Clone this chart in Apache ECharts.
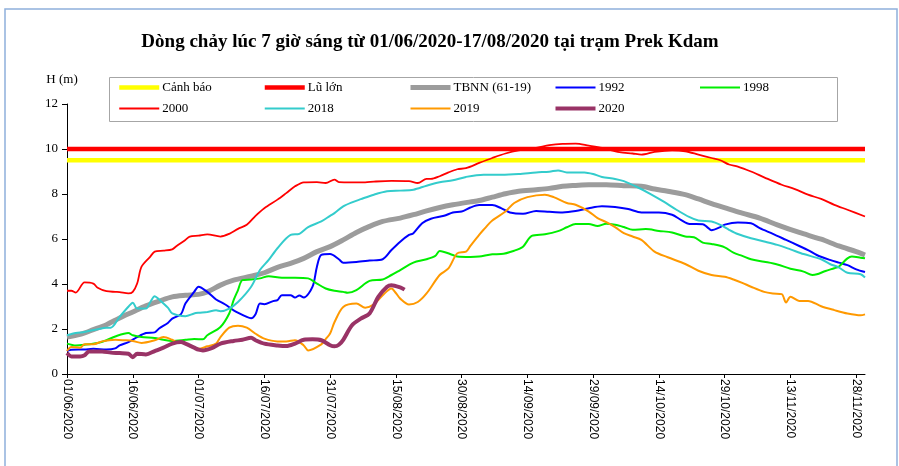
<!DOCTYPE html>
<html>
<head>
<meta charset="utf-8">
<title>Prek Kdam</title>
<script src="https://cdn.jsdelivr.net/npm/echarts@6/dist/echarts.min.js"></script>
<style>
  html, body { margin: 0; padding: 0; background: #fff; }
  #chart { width: 899px; height: 466px; }
</style>
</head>
<body>
<div id="chart"></div>
<script>
// day index 0 = 01/06/2020, last = 30/11/2020
const startDay = new Date(2020, 5, 1)
const dayCount = 183
const legendRow1 = ['Cảnh báo', 'Lũ lớn', 'TBNN (61-19)', '1992', '1998']
const legendRow2 = ['2000', '2018', '2019', '2020']
const yTicks = [0, 2, 4, 6, 8, 10, 12]

const canhBao = [[0, 9.5], [182, 9.5]]
const luLon = [[0, 10], [182, 10]]

const tbnn = [[0,1.64],[3,1.76],[6,1.97],[9,2.19],[12,2.49],[15,2.76],[18,3.03],[21,3.24],[24,3.43],[27,3.50],[30,3.54],[32,3.65],[35,3.95],[38,4.17],[42,4.35],[45,4.50],[48,4.74],[51,4.92],[54,5.14],[57,5.44],[60,5.66],[63,5.96],[66,6.29],[69,6.56],[72,6.78],[76,6.93],[79,7.08],[82,7.25],[85,7.40],[88,7.52],[92,7.65],[94,7.71],[97,7.86],[100,8.01],[103,8.12],[107,8.19],[110,8.25],[113,8.34],[116,8.38],[119,8.41],[123,8.41],[127,8.37],[131,8.34],[134,8.22],[137,8.12],[141,7.97],[144,7.78],[147,7.57],[151,7.33],[154,7.15],[158,6.93],[162,6.63],[167,6.29],[172,5.99],[176,5.69],[180,5.44],[182,5.29]]

const y1992 = [[0,1.02],[1,1.08],[4,1.09],[6,1.12],[9,1.09],[11,1.14],[12,1.27],[14,1.42],[16,1.64],[18,1.82],[20,1.85],[21,2.02],[23,2.27],[24,2.46],[26,2.66],[27,3.13],[29,3.65],[30,3.88],[32,3.65],[34,3.31],[36,3.10],[38,2.83],[41,2.54],[42,2.48],[43,2.66],[44,3.13],[45,3.10],[47,3.24],[48,3.28],[49,3.50],[51,3.50],[52,3.40],[53,3.49],[54,3.40],[56,3.88],[57,4.77],[58,5.29],[60,5.33],[62,5.10],[63,4.95],[66,4.98],[69,5.04],[72,5.10],[74,5.51],[76,5.88],[78,6.18],[79,6.26],[81,6.70],[83,6.90],[86,7.03],[88,7.18],[90,7.22],[92,7.40],[94,7.51],[97,7.51],[99,7.37],[101,7.18],[104,7.12],[107,7.25],[110,7.21],[113,7.18],[116,7.24],[119,7.37],[122,7.46],[125,7.42],[128,7.33],[131,7.18],[135,7.18],[138,7.08],[140,6.85],[142,6.67],[145,6.66],[146,6.53],[147,6.39],[149,6.53],[150,6.64],[153,6.73],[156,6.70],[158,6.48],[161,6.23],[164,5.96],[167,5.69],[169,5.51],[171,5.29],[174,5.07],[176,4.95],[178,4.84],[180,4.65],[182,4.53]]

const y1998 = [[0,1.35],[2,1.27],[4,1.30],[7,1.38],[9,1.50],[11,1.67],[14,1.82],[15,1.72],[17,1.64],[20,1.60],[22,1.52],[24,1.47],[27,1.52],[29,1.56],[31,1.54],[32,1.72],[35,2.09],[37,2.69],[38,3.28],[39,3.73],[40,4.17],[42,4.20],[44,4.25],[46,4.35],[49,4.28],[52,4.28],[55,4.25],[57,4.02],[59,3.80],[61,3.70],[63,3.65],[64,3.61],[66,3.73],[69,4.14],[72,4.20],[74,4.40],[76,4.62],[79,4.95],[82,5.10],[84,5.25],[85,5.47],[88,5.29],[89,5.22],[92,5.20],[94,5.22],[97,5.32],[99,5.33],[102,5.48],[104,5.66],[106,6.14],[109,6.21],[112,6.35],[114,6.52],[116,6.67],[119,6.67],[121,6.58],[123,6.68],[125,6.63],[127,6.53],[129,6.41],[132,6.44],[135,6.36],[138,6.29],[141,6.11],[143,6.08],[145,5.84],[147,5.78],[150,5.63],[152,5.39],[154,5.25],[156,5.10],[159,4.99],[162,4.87],[165,4.68],[168,4.55],[170,4.40],[171,4.43],[173,4.58],[175,4.70],[176,4.77],[178,5.14],[179,5.22],[181,5.17],[182,5.14]]

const y2000 = [[0,3.70],[1,3.70],[2,3.62],[4,4.07],[6,4.02],[7,3.83],[9,3.68],[11,3.65],[12,3.64],[14,3.58],[15,3.65],[16,4.02],[17,4.77],[19,5.22],[20,5.44],[22,5.48],[24,5.54],[25,5.69],[27,5.96],[28,6.11],[30,6.15],[32,6.21],[35,6.11],[37,6.23],[39,6.45],[41,6.63],[43,7.03],[45,7.37],[48,7.75],[50,8.04],[52,8.34],[54,8.52],[57,8.53],[59,8.49],[61,8.64],[62,8.53],[65,8.52],[68,8.52],[70,8.55],[74,8.58],[78,8.57],[80,8.49],[82,8.67],[83,8.67],[85,8.79],[87,8.96],[89,9.10],[91,9.15],[94,9.38],[97,9.60],[100,9.80],[103,9.94],[107,10.05],[110,10.17],[113,10.23],[116,10.24],[119,10.15],[122,10.05],[126,9.86],[129,9.80],[131,9.75],[134,9.87],[138,9.94],[141,9.90],[144,9.75],[147,9.60],[149,9.50],[151,9.31],[153,9.22],[156,9.00],[159,8.74],[163,8.41],[166,8.22],[169,7.97],[172,7.78],[175,7.52],[178,7.30],[182,7.00]]

const y2018 = [[0,1.72],[2,1.82],[4,1.87],[7,1.99],[9,2.06],[10,2.06],[12,2.54],[14,2.99],[15,3.17],[16,2.91],[18,2.91],[19,3.20],[20,3.46],[21,3.31],[23,2.95],[24,2.69],[27,2.57],[29,2.69],[30,2.72],[32,2.76],[34,2.83],[35,2.79],[37,2.91],[39,3.20],[42,3.88],[44,4.62],[46,5.07],[48,5.59],[51,6.18],[53,6.23],[55,6.53],[58,6.78],[60,7.03],[61,7.15],[63,7.45],[65,7.63],[67,7.77],[70,7.97],[73,8.12],[76,8.15],[79,8.19],[82,8.37],[85,8.52],[88,8.61],[91,8.76],[95,8.86],[99,8.86],[103,8.89],[107,8.96],[110,8.99],[112,9.05],[114,8.96],[118,8.96],[120,8.89],[122,8.76],[125,8.67],[127,8.57],[130,8.31],[133,8.01],[136,7.67],[139,7.30],[142,6.97],[144,6.82],[147,6.78],[149,6.63],[151,6.41],[153,6.22],[156,6.03],[159,5.89],[162,5.74],[165,5.54],[168,5.33],[172,5.10],[174,4.89],[176,4.74],[178,4.50],[181,4.43],[182,4.29]]

const y2019 = [[0,1.02],[1,1.20],[3,1.17],[4,1.32],[6,1.32],[8,1.45],[11,1.52],[13,1.50],[15,1.47],[17,1.38],[20,1.50],[22,1.64],[24,1.52],[25,1.42],[27,1.38],[28,1.23],[30,1.12],[32,1.23],[34,1.35],[35,1.64],[37,2.06],[39,2.15],[41,2.06],[43,1.79],[45,1.57],[48,1.45],[50,1.45],[52,1.50],[54,1.27],[55,1.05],[58,1.32],[59,1.55],[60,1.80],[61,2.30],[63,2.98],[66,3.13],[68,2.95],[70,3.10],[72,3.50],[74,3.80],[75,3.60],[76,3.35],[78,3.09],[80,3.20],[82,3.58],[85,4.40],[87,4.69],[89,5.36],[91,5.44],[92,5.69],[94,6.18],[95,6.41],[97,6.82],[100,7.22],[102,7.60],[105,7.86],[109,7.97],[111,7.86],[114,7.60],[116,7.52],[119,7.22],[121,6.93],[123,6.75],[125,6.53],[127,6.26],[129,6.11],[131,5.96],[134,5.44],[137,5.19],[141,4.89],[144,4.59],[147,4.40],[150,4.32],[152,4.20],[154,4.05],[156,3.88],[159,3.65],[161,3.58],[163,3.55],[164,3.18],[165,3.43],[167,3.25],[169,3.25],[172,3.01],[175,2.84],[178,2.69],[181,2.61],[182,2.65]]

const y2020 = [[0,0.93],[1,0.78],[3,0.78],[4,0.83],[5,1.00],[8,1.00],[10,0.95],[12,0.93],[14,0.90],[15,0.75],[16,0.90],[18,0.87],[20,1.02],[22,1.17],[24,1.35],[26,1.42],[27,1.35],[29,1.17],[30,1.08],[31,1.05],[33,1.15],[35,1.35],[38,1.47],[40,1.52],[42,1.61],[43,1.50],[45,1.35],[48,1.27],[50,1.24],[52,1.35],[54,1.52],[56,1.54],[58,1.50],[60,1.28],[61,1.23],[62,1.30],[63,1.52],[65,2.17],[67,2.46],[69,2.69],[71,3.43],[73,3.88],[74,3.95],[76,3.85],[77,3.75]]

function pad(n) {
  return n < 10 ? '0' + n : '' + n
}

const days = []
for (let i = 0; i < dayCount; i++) {
  const d = new Date(startDay.getTime() + i * 86400000)
  days.push(pad(d.getDate()) + '/' + pad(d.getMonth() + 1) + '/' + d.getFullYear())
}

function makeLine(name, data, color, width, smooth) {
  return {
    name: name,
    type: 'line',
    data: data,
    symbol: 'none',
    smooth: smooth,
    color: color,
    lineStyle: { color: color, width: width },
  }
}

// one small legend per column so the columns line up like the original
const legends = legendRow1.map(function (name, i) {
  const items = [name]
  if (legendRow2[i]) items.push(legendRow2[i])
  return {
    data: items,
    orient: 'vertical',
    left: 117 + 145.5 * i,
    top: 81,
    padding: 0,
    itemWidth: 40,
    itemHeight: 14,
    itemGap: 8,
    selectedMode: false,
    itemStyle: { opacity: 0 },
    lineStyle: { width: 'inherit' },
    textStyle: {
      fontFamily: 'Liberation Serif',
      fontSize: 13,
      color: '#000',
      padding: [0, 0, 0, -2],
    },
  }
})

const chart = echarts.init(document.getElementById('chart'))
const option = {
  animation: false,
  backgroundColor: '#fff',
  title: {
    text: 'Dòng chảy lúc 7 giờ sáng từ 01/06/2020-17/08/2020 tại trạm Prek Kdam',
    left: 425,
    top: 28,
    textAlign: 'center',
    textStyle: {
      fontFamily: 'Liberation Serif',
      fontSize: 19,
      fontWeight: 'bold',
      color: '#000',
    },
  },
  legend: legends,
  graphic: [
    {
      type: 'rect',
      shape: { x: 5, y: 9, width: 892, height: 470 },
      style: { fill: 'none', stroke: '#8fb0dc', lineWidth: 1.5 },
      silent: true,
    },
    {
      type: 'rect',
      shape: { x: 109.5, y: 77.5, width: 728, height: 44 },
      style: { fill: 'none', stroke: '#a6a6a6', lineWidth: 1 },
      silent: true,
    },
  ],
  grid: {
    left: 67,
    right: 34,
    top: 104,
    bottom: 92,
  },
  xAxis: {
    type: 'category',
    data: days,
    boundaryGap: false,
    axisLine: { lineStyle: { color: '#000', width: 1 } },
    axisTick: { interval: 14, length: 4, lineStyle: { color: '#000' } },
    axisLabel: {
      interval: 14,
      rotate: -90,
      margin: 5,
      fontFamily: 'Liberation Sans',
      fontSize: 12,
      color: '#000',
    },
    splitLine: { show: false },
  },
  yAxis: {
    type: 'value',
    min: yTicks[0],
    max: yTicks[yTicks.length - 1],
    interval: 2,
    name: 'H (m)',
    nameLocation: 'end',
    nameGap: 18,
    nameTextStyle: {
      fontFamily: 'Liberation Serif',
      fontSize: 13,
      color: '#000',
      padding: [0, 10, 0, 0],
    },
    axisLine: { show: true, lineStyle: { color: '#000', width: 1 } },
    axisTick: { show: true, length: 5, lineStyle: { color: '#000' } },
    axisLabel: {
      margin: 9,
      fontFamily: 'Liberation Serif',
      fontSize: 13,
      color: '#000',
    },
    splitLine: { show: false },
  },
  series: [
    makeLine('Cảnh báo', canhBao, '#ffff00', 4.5, false),
    makeLine('Lũ lớn', luLon, '#ff0000', 4.5, false),
    makeLine('TBNN (61-19)', tbnn, '#9c9c9c', 5, 0.3),
    makeLine('1992', y1992, '#0000ff', 2, 0.3),
    makeLine('1998', y1998, '#00ee00', 2, 0.3),
    makeLine('2000', y2000, '#ff0000', 1.8, 0.3),
    makeLine('2018', y2018, '#33cccc', 2, 0.3),
    makeLine('2019', y2019, '#ff9900', 2, 0.3),
    makeLine('2020', y2020, '#993366', 4, 0.3),
  ],
}
chart.setOption(option)
</script>
</body>
</html>
